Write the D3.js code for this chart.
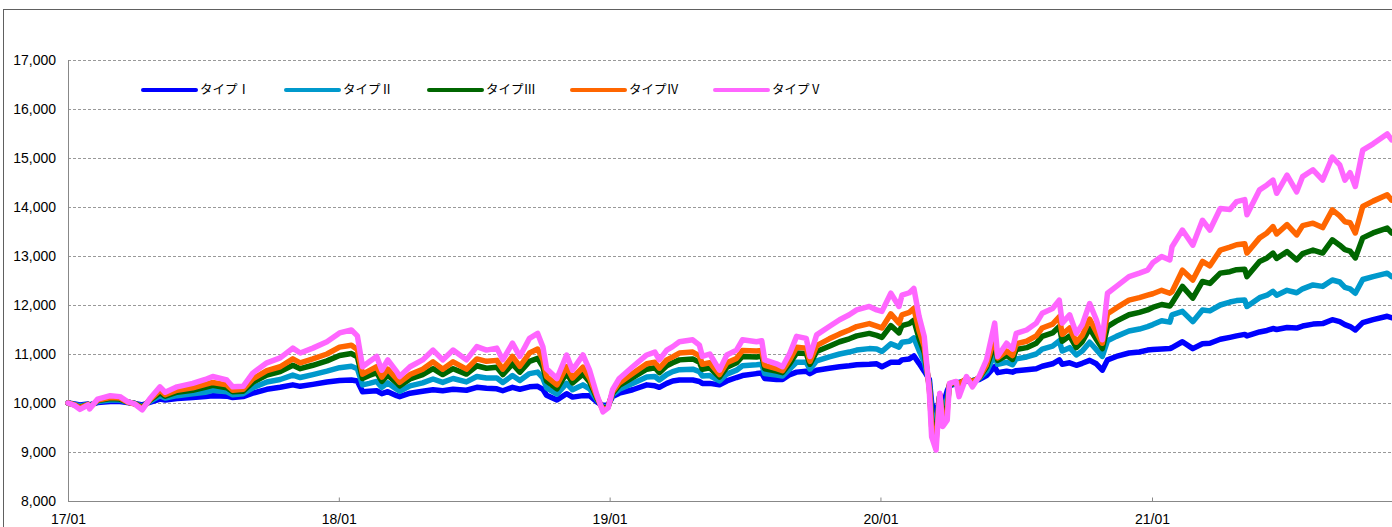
<!DOCTYPE html>
<html><head><meta charset="utf-8">
<script src="https://cdn.jsdelivr.net/npm/d3@7"></script>
<style>body{margin:0;background:#fff}svg{display:block}</style>
</head><body><svg id="c" width="1392" height="527"></svg>
<script>
const dates=[
"2017-01-01","2017-01-10","2017-01-17","2017-01-28","2017-01-30","2017-02-10","2017-02-27","2017-03-12","2017-03-22","2017-04-01",
"2017-04-11","2017-04-21","2017-05-05","2017-05-12","2017-05-28","2017-06-18","2017-07-05","2017-07-15","2017-08-03","2017-08-11",
"2017-08-25","2017-09-07","2017-09-26","2017-10-14","2017-10-31","2017-11-10","2017-11-27","2017-12-16",
"2018-01-02","2018-01-18","2018-01-26","2018-02-02","2018-02-11","2018-02-21","2018-02-28","2018-03-08","2018-03-20","2018-03-24",
"2018-04-07","2018-04-24","2018-05-08","2018-05-21","2018-06-04","2018-06-22","2018-07-06","2018-07-19","2018-08-02","2018-08-10",
"2018-08-23","2018-09-02","2018-09-15","2018-09-26","2018-10-03","2018-10-08","2018-10-22","2018-11-04","2018-11-12","2018-11-26",
"2018-12-05","2018-12-15","2018-12-23","2018-12-30",
"2019-01-05","2019-01-14","2019-02-01","2019-02-20","2019-03-03","2019-03-09","2019-03-19","2019-03-27","2019-04-05","2019-04-23",
"2019-05-02","2019-05-06","2019-05-16","2019-05-29","2019-06-08","2019-06-21","2019-06-29","2019-07-18","2019-07-25","2019-07-29",
"2019-08-14","2019-08-22","2019-09-01","2019-09-10","2019-09-23","2019-09-28","2019-10-07","2019-10-24","2019-11-07","2019-11-20",
"2019-11-30","2019-12-17","2019-12-27",
"2020-01-03","2020-01-15","2020-01-26","2020-01-30","2020-02-09","2020-02-15","2020-02-22","2020-02-29","2020-03-07","2020-03-10",
"2020-03-16","2020-03-21","2020-03-25","2020-03-31","2020-04-03","2020-04-12","2020-04-16","2020-04-26","2020-05-04","2020-05-13",
"2020-05-23","2020-06-03","2020-06-07","2020-06-19","2020-06-27","2020-07-02","2020-07-16","2020-07-29","2020-08-06","2020-08-20",
"2020-08-29","2020-09-02","2020-09-12","2020-09-21","2020-09-29","2020-10-09","2020-10-18","2020-10-26","2020-11-02","2020-11-14",
"2020-12-01","2020-12-15","2020-12-26",
"2021-01-02","2021-01-14","2021-01-25","2021-01-28","2021-02-11","2021-02-25","2021-03-10","2021-03-20","2021-04-03","2021-04-16",
"2021-04-25","2021-05-06","2021-05-09","2021-05-26","2021-06-05","2021-06-13","2021-06-18","2021-07-02","2021-07-15","2021-07-23",
"2021-08-06","2021-08-19","2021-09-01","2021-09-11","2021-09-18","2021-09-25","2021-10-02","2021-10-12","2021-10-26","2021-11-14",
"2021-11-20"];

const typeI=[
10000,9980,9960,9980,9960,10010,10030,10030,10010,9990,
9960,10010,10080,10060,10090,10110,10130,10150,10140,10110,
10130,10200,10280,10320,10370,10340,10380,10430,
10460,10470,10450,10230,10240,10250,10190,10230,10150,10130,
10200,10240,10270,10250,10280,10260,10320,10300,10290,10250,
10320,10280,10330,10340,10280,10160,10060,10190,10120,10150,
10150,10020,9950,9960,
10130,10200,10270,10370,10350,10320,10400,10450,10470,10470,
10440,10400,10400,10370,10450,10520,10560,10600,10610,10500,
10480,10480,10580,10630,10650,10600,10670,10710,10740,10760,
10780,10790,10800,
10740,10830,10830,10880,10900,10960,10810,10650,10480,10000,
9720,10150,9950,10250,10350,10400,10420,10450,10460,10480,
10560,10740,10620,10650,10630,10660,10680,10700,10750,10800,
10880,10790,10820,10770,10810,10870,10800,10670,10880,10950,
11020,11040,11080,
11090,11100,11110,11130,11250,11110,11210,11220,11300,11340,
11370,11400,11370,11450,11480,11520,11500,11540,11530,11570,
11610,11620,11700,11660,11600,11560,11490,11640,11700,11770,
11740];

const typeII=[
10000,9970,9940,9970,9940,10030,10060,10060,10020,9990,
9930,10030,10150,10100,10150,10190,10220,10260,10230,10170,
10190,10310,10430,10480,10570,10520,10580,10650,
10720,10750,10700,10370,10400,10440,10320,10410,10280,10240,
10350,10410,10490,10420,10500,10430,10540,10510,10510,10420,
10560,10460,10600,10630,10510,10310,10180,10400,10270,10370,
10290,10060,9920,9940,
10170,10280,10400,10530,10540,10470,10580,10640,10680,10690,
10640,10550,10560,10450,10590,10670,10760,10780,10790,10600,
10570,10550,10700,10830,10830,10690,10860,10940,11000,11040,
11080,11110,11100,
11050,11210,11140,11240,11260,11330,11070,10840,10400,9810,
9540,10160,9830,10090,10360,10410,10410,10470,10450,10500,
10650,10980,10790,10830,10780,10900,10940,11000,11100,11160,
11270,11060,11130,10980,11060,11240,11090,10950,11270,11360,
11470,11510,11560,
11600,11680,11650,11800,11870,11660,11900,11880,12000,12060,
12090,12100,11970,12150,12200,12280,12200,12300,12250,12330,
12410,12380,12510,12470,12360,12330,12240,12520,12580,12650,
12580];

const typeIII=[
10000,9960,9910,9970,9920,10050,10090,10080,10020,9990,
9910,10050,10210,10140,10220,10260,10320,10360,10310,10230,
10240,10420,10570,10640,10770,10700,10770,10860,
10970,11010,10940,10500,10560,10620,10440,10570,10410,10350,
10490,10580,10700,10580,10700,10590,10760,10710,10730,10580,
10800,10630,10850,10910,10740,10450,10290,10610,10410,10590,
10430,10090,9880,9930,
10200,10360,10520,10690,10720,10620,10760,10820,10880,10900,
10830,10690,10720,10530,10730,10820,10950,10940,10960,10700,
10650,10620,10810,11020,11010,10790,11050,11160,11250,11310,
11370,11420,11380,
11340,11580,11430,11580,11620,11690,11320,11030,10330,9630,
9360,10170,9720,9940,10370,10420,10400,10480,10440,10510,
10730,11210,10870,10970,10890,11090,11130,11220,11360,11430,
11560,11260,11370,11130,11250,11520,11300,11110,11560,11670,
11800,11850,11900,
11950,12010,11980,12040,12380,12140,12480,12440,12650,12680,
12720,12730,12580,12890,12960,13060,12950,13090,12920,13050,
13120,13060,13330,13220,13130,13100,12960,13370,13470,13570,
13470];

const typeIV=[
10000,9960,9900,9970,9900,10060,10110,10100,10020,9980,
9890,10060,10260,10170,10260,10310,10380,10420,10370,10260,
10280,10490,10660,10740,10900,10820,10900,11000,
11140,11180,11090,10590,10660,10740,10530,10690,10490,10420,
10580,10690,10840,10690,10840,10690,10900,10850,10870,10690,
10950,10750,11020,11100,10890,10540,10370,10740,10510,10730,
10510,10120,9860,9920,
10230,10410,10600,10800,10830,10710,10880,10940,11020,11040,
10960,10790,10820,10580,10820,10910,11070,11060,11070,10770,
10700,10660,10890,11140,11120,10850,11170,11310,11410,11490,
11560,11620,11570,
11530,11820,11630,11800,11850,11930,11480,11150,10280,9520,
9240,10180,9650,9840,10390,10430,10390,10500,10430,10520,
10780,11360,10920,11060,10970,11210,11260,11370,11530,11610,
11760,11400,11530,11240,11380,11710,11450,11220,11820,11940,
12100,12150,12200,
12230,12300,12240,12270,12710,12510,12890,12800,13120,13180,
13230,13250,13060,13370,13470,13600,13450,13640,13430,13620,
13670,13580,13940,13820,13700,13680,13470,14010,14120,14250,
14140];

const typeV=[
10000,9950,9870,9960,9880,10080,10150,10130,10030,9980,
9860,10080,10330,10220,10330,10400,10480,10540,10470,10330,
10340,10610,10820,10920,11120,11020,11120,11250,
11430,11490,11370,10740,10840,10950,10670,10880,10640,10540,
10740,10880,11080,10880,11080,10880,11150,11080,11120,10880,
11220,10950,11320,11420,11150,10700,10500,10980,10670,10980,
10670,10160,9820,9900,
10270,10500,10740,10980,11040,10880,11080,11150,11250,11290,
11180,10950,11000,10670,10980,11080,11290,11250,11270,10880,
10800,10740,11020,11360,11320,10950,11390,11560,11700,11800,
11900,11970,11900,
11870,12240,11970,12200,12250,12340,11770,11360,10200,9310,
9040,10200,9520,9650,10400,10440,10130,10540,10330,10540,
10880,11630,10950,11220,11100,11420,11490,11630,11830,11930,
12100,11630,11800,11420,11600,12030,11700,11290,12240,12380,
12580,12650,12710,
12860,12990,12920,13190,13530,13220,13730,13530,13970,13950,
14110,14150,13840,14350,14450,14550,14280,14650,14310,14620,
14760,14550,15020,14860,14550,14700,14420,15160,15290,15490,
15370];

const seriesNames=["タイプⅠ","タイプⅡ","タイプⅢ","タイプⅣ","タイプⅤ"];
const seriesColors=["#0000ff","#0099cc","#006600","#ff6600","#ff66ff"];
const yTicks=[8000,9000,10000,11000,12000,13000,14000,15000,16000,17000];
const xTickDates=["2017-01-01","2018-01-01","2019-01-01","2020-01-01","2021-01-01"];
const xTickLabels=["17/01","18/01","19/01","20/01","21/01"];

const parse=d3.timeParse("%Y-%m-%d");
const W=1392,H=527, L=68, B=501, T=60;
const svg=d3.select("#c");

const x=d3.scaleTime().domain([parse("2017-01-01"),parse("2021-01-01")]).range([L,1152]);
const y=d3.scaleLinear().domain([8000,17000]).range([B,T]);

// outer border
svg.append("rect").attr("x",3.5).attr("y",9.5).attr("width",1600).attr("height",700)
  .attr("fill","none").attr("stroke","#606060").attr("stroke-width",1);

// gridlines
svg.append("g").selectAll("line").data(yTicks.filter(d=>d>8000)).join("line")
  .attr("x1",L).attr("x2",W).attr("y1",d=>Math.round(y(d))+0.5).attr("y2",d=>Math.round(y(d))+0.5)
  .attr("stroke","#999").attr("stroke-width",1).attr("stroke-dasharray","3,2");

// y axis labels
const yAxis=d3.axisLeft(y).tickValues(yTicks).tickSize(0).tickPadding(12).tickFormat(d3.format(","));
const gy=svg.append("g").attr("transform",`translate(${L},0)`).call(yAxis);
gy.select(".domain").remove();
gy.selectAll("text").attr("font-family","'Liberation Sans',Arial,sans-serif").attr("font-size",14).attr("fill","#000");

// x axis
const xAxis=d3.axisBottom(x).tickValues(xTickDates.map(parse)).tickFormat((d,i)=>xTickLabels[i])
  .tickSizeInner(-4).tickSizeOuter(0).tickPadding(13);
const gx=svg.append("g").attr("transform",`translate(0,${B+0.5})`).call(xAxis);
gx.select(".domain").remove();
gx.selectAll("line").attr("stroke","#888");
gx.selectAll("text").attr("font-family","'Liberation Sans',Arial,sans-serif").attr("font-size",14).attr("fill","#000");

// axis lines
svg.append("line").attr("x1",L).attr("x2",W).attr("y1",B+0.5).attr("y2",B+0.5).attr("stroke","#888");
svg.append("line").attr("x1",L+0.5).attr("x2",L+0.5).attr("y1",T).attr("y2",B).attr("stroke","#888");

// series
const allSeries=[typeI,typeII,typeIII,typeIV,typeV];
const parsedDates=dates.map(parse);
const line=d3.line().x(d=>x(d[0])).y(d=>y(d[1]));
svg.append("g").selectAll("path").data(allSeries).join("path")
  .attr("d",s=>line(s.map((v,i)=>[parsedDates[i],v])))
  .attr("fill","none").attr("stroke",(s,i)=>seriesColors[i]).attr("stroke-width",5.5)
  .attr("stroke-linejoin","round").attr("stroke-linecap","round");

// legend
const lg=svg.append("g").selectAll("g").data(seriesNames).join("g")
  .attr("transform",(d,i)=>`translate(${143+i*143},90)`);
lg.append("line").attr("x1",0).attr("x2",53).attr("y1",0).attr("y2",0)
  .attr("stroke",(d,i)=>seriesColors[i]).attr("stroke-width",4).attr("stroke-linecap","round");
lg.append("text").attr("x",57).attr("y",0).attr("dy","0.35em").text(d=>d)
  .attr("font-family","'Noto Sans CJK JP',sans-serif").attr("font-size",12.5).attr("fill","#000");
</script></body></html>
